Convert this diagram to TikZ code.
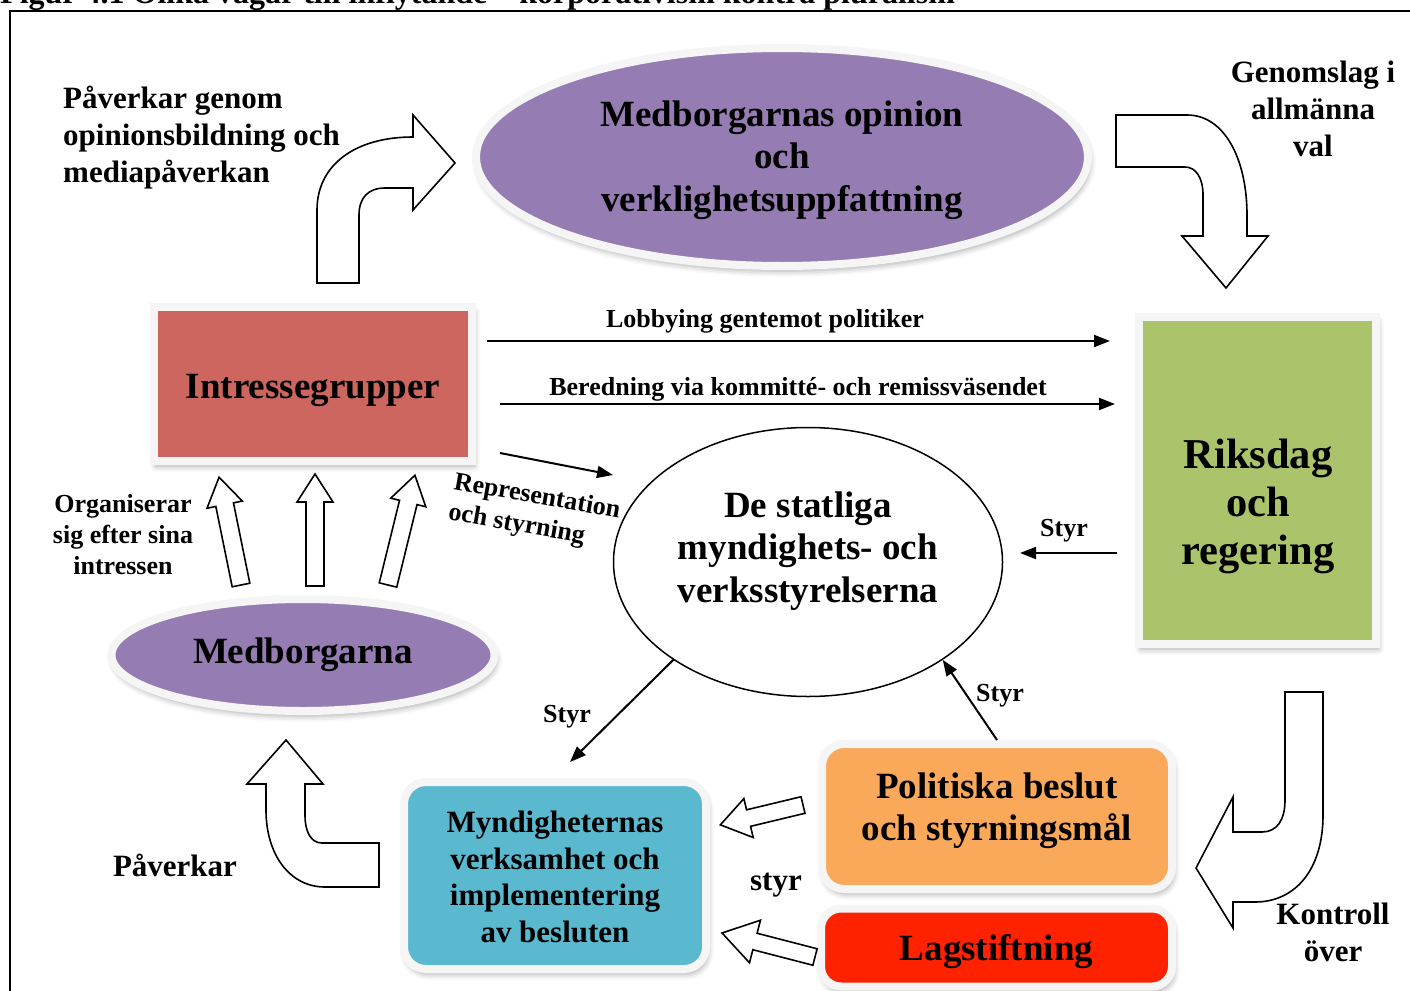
\documentclass[tikz,border=0pt]{standalone}
\usepackage{fontspec}
\setmainfont{Liberation Serif}
\usetikzlibrary{shapes.geometric,arrows.meta,shadows.blur}

\definecolor{lila}{HTML}{957DB3}
\definecolor{tegel}{HTML}{CC665E}
\definecolor{gron}{HTML}{ABC46C}
\definecolor{himmel}{HTML}{5AB8CF}
\definecolor{apelsin}{HTML}{FAA85A}
\definecolor{signal}{HTML}{FF2200}

\begin{document}
\begin{tikzpicture}[x=1pt,y=-1pt,
  every node/.style={inner sep=0pt},
  ring/.style={draw=gray!8, line width=8pt,
    blur shadow={shadow xshift=2pt, shadow yshift=-5pt, shadow blur radius=6pt, shadow opacity=35}},
  stor/.style={font=\fontsize{37}{42.5}\selectfont\bfseries, align=center},
  mellan/.style={font=\fontsize{31}{37}\selectfont\bfseries, align=center},
  liten/.style={font=\fontsize{26}{31}\selectfont\bfseries, align=center},
  pil/.style={line width=2pt, -{Triangle[length=16pt,width=12pt]}},
  block/.style={draw=black, line width=1.6pt, fill=white, line join=miter}]
  \useasboundingbox (0,0) rectangle (1410,990);

  % ram och rubrik
  \node[anchor=base west, font=\fontsize{32}{38}\selectfont\bfseries] (rubrik) at (0,4)
    {Figur 4.1 Olika vägar till inflytande – korporativism kontra pluralism};
  \draw[line width=2pt] (10,1010) -- (10,11) -- (1420,11);

  % rutor och ellipser
  \node[ring, ellipse, fill=lila, minimum width=612pt, minimum height=218pt] (opinion) at (782,157) {};
  \node[stor] (opiniontext) at (782,160) {Medborgarnas opinion\\och\\verklighetsuppfattning};
  \node[ring, fill=tegel, minimum width=318pt, minimum height=154pt] (intresse) at (313,384) {};
  \node[stor] (intressetext) at (313,390) {Intressegrupper};
  \node[ring, fill=gron, minimum width=237pt, minimum height=327pt] (riksdag) at (1257.5,480.5) {};
  \node[font=\fontsize{42.5}{48}\selectfont\bfseries, align=center] (riksdagtext) at (1258,506) {Riksdag\\och\\regering};
  \node[ellipse, draw, line width=1.5pt, minimum width=389pt, minimum height=269pt] (statliga) at (808,562) {};
  \node[stor] (statligatext) at (808,551) {De statliga\\myndighets- och\\verksstyrelserna};
  \node[ring, ellipse, fill=lila, minimum width=383pt, minimum height=112pt, stor] (medborgarna) at (303,655) {Medborgarna};
  \node[ring, fill=himmel, rounded corners=22pt, minimum width=302pt, minimum height=187pt] (myndighet) at (555,875.5) {};
  \node[font=\fontsize{31}{36.5}\selectfont\bfseries, align=center] (myndighettext) at (555,877)
    {Myndigheternas\\verksamhet och\\implementering\\av besluten};
  \node[ring, fill=apelsin, rounded corners=22pt, minimum width=350pt, minimum height=145pt] (politiska) at (997,816.5) {};
  \node[font=\fontsize{37}{42}\selectfont\bfseries, align=center] (politiskatext) at (997,811)
    {Politiska beslut\\och styrningsmål};
  \node[ring, fill=signal, rounded corners=20pt, minimum width=351pt, minimum height=78pt] (lag) at (996.5,947.5) {};
  \node[stor, anchor=base] (lagtext) at (996.5,960) {Lagstiftning};

  % tunna pilar
  \coordinate (lobbyA) at (487,341);
  \coordinate (lobbyB) at (1110,341);
  \draw[pil] (lobbyA) -- (lobbyB);
  \node[liten, anchor=base] (lobbytext) at (765,327) {Lobbying gentemot politiker};

  \coordinate (beredA) at (500,404);
  \coordinate (beredB) at (1115,404);
  \draw[pil] (beredA) -- (beredB);
  \node[liten, anchor=base] (beredtext) at (798,395) {Beredning via kommitté- och remissväsendet};

  \coordinate (reprA) at (500,453);
  \coordinate (reprB) at (613,475);
  \draw[pil] (reprA) -- (reprB);
  \node[liten, align=left, anchor=north west, rotate=-10] (reprtext) at (456,471) {Representation\\och styrning};

  \coordinate (styrA) at (1117,553);
  \coordinate (styrB) at (1020,553);
  \draw[pil] (styrA) -- (styrB);
  \node[liten, anchor=base] (styrtextA) at (1064,536) {Styr};

  \draw[pil] (politiska.north) -- (statliga.-36);
  \node[liten, anchor=base] (styrtextB) at (1000,701) {Styr};

  \coordinate (styrC) at (570,762);
  \draw[pil] (statliga.-144) -- (styrC);
  \node[liten, anchor=base] (styrtextC) at (567,722) {Styr};

  % blockpilar
  \draw[block] (317,283) -- (317,210) .. controls (317,165) and (355,137) .. (413,137) -- (413,115)
    -- (455,163) -- (413,210) -- (413,188) -- (385,188) .. controls (368,188) and (359,198) .. (359,215)
    -- (359,283) -- cycle;
  \draw[block] (1116,115) -- (1187,115) .. controls (1225,115) and (1247,160) .. (1247,215) -- (1247,236)
    -- (1268,236) -- (1226,288) -- (1182,236) -- (1203,236) -- (1203,195) .. controls (1203,178) and (1196,167) .. (1185,167)
    -- (1116,167) -- cycle;
  \draw[block] (1285,692) -- (1323,692) -- (1323,815) .. controls (1323,870) and (1295,902) .. (1255,902)
    -- (1233,902) -- (1233,928) -- (1196,868) -- (1233,797) -- (1233,832) -- (1262,832)
    .. controls (1277,832) and (1285,820) .. (1285,800) -- cycle;
  \draw[block] (379,843) -- (322,843) .. controls (311,843) and (305,832) .. (305,815) -- (305,784)
    -- (323,784) -- (286,740) -- (247,784) -- (266,784) -- (266,810) .. controls (266,855) and (290,887) .. (325,887)
    -- (379,887) -- cycle;

  \draw[block, shift={(241,585)}, rotate=101.5] (0,-9) -- (82,-9) -- (82,-18) -- (110,0) -- (82,18) -- (82,9) -- (0,9) -- cycle;
  \draw[block, shift={(315,586)}, rotate=90] (0,-9) -- (84,-9) -- (84,-18) -- (112,0) -- (84,18) -- (84,9) -- (0,9) -- cycle;
  \draw[block, shift={(388,585)}, rotate=76.2] (0,-9) -- (85,-9) -- (85,-18) -- (113,0) -- (85,18) -- (85,9) -- (0,9) -- cycle;

  \draw[block, shift={(803,805)}, rotate=193.5] (0,-8.5) -- (56,-8.5) -- (56,-20) -- (85,0) -- (56,20) -- (56,8.5) -- (0,8.5) -- cycle;
  \draw[block, shift={(815,957)}, rotate=165.5] (0,-8.5) -- (62,-8.5) -- (62,-22) -- (96,0) -- (62,22) -- (62,8.5) -- (0,8.5) -- cycle;

  % fria texter
  \node[mellan, align=left, anchor=west] (opintext) at (63,138) {Påverkar genom\\opinionsbildning och\\mediapåverkan};
  \node[mellan] (valtext) at (1313,109) {Genomslag i\\allmänna\\val};
  \node[liten] (orgtext) at (123,535) {Organiserar\\sig efter sina\\intressen};
  \node[mellan, anchor=base] (paverkar) at (175,876) {Påverkar};
  \node[mellan] (kontroll) at (1333,932) {Kontroll\\över};
  \node[mellan, anchor=base] (styrtextD) at (776,890) {styr};
\end{tikzpicture}
\end{document}
